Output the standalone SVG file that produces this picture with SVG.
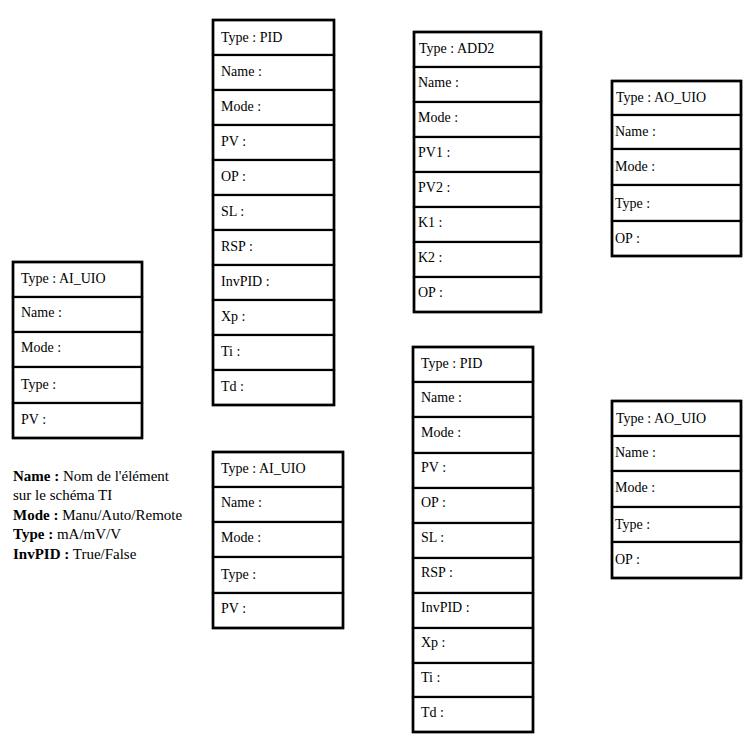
<svg xmlns="http://www.w3.org/2000/svg" width="751" height="743" viewBox="0 0 751 743">
<style>
.c{fill:#fff;stroke:#000;stroke-width:2.2}
.o{fill:none;stroke:#000;stroke-width:2.6}
.t{font-family:"Liberation Serif","Times New Roman",serif;font-size:14px;fill:#000}
.l{font-family:"Liberation Serif","Times New Roman",serif;font-size:15px;fill:#000}
.b{font-weight:bold}
</style>
<rect width="751" height="743" fill="#fff"/>
<g id="ai_uio_1">
<rect class="c" x="13" y="262" width="129" height="35"/>
<rect class="c" x="13" y="297" width="129" height="35"/>
<rect class="c" x="13" y="332" width="129" height="35"/>
<rect class="c" x="13" y="367" width="129" height="36"/>
<rect class="c" x="13" y="403" width="129" height="35"/>
<rect class="o" x="13" y="262" width="129" height="176"/>
<text class="t" x="21" y="283">Type : AI_UIO</text>
<text class="t" x="21" y="317">Name :</text>
<text class="t" x="21" y="352">Mode :</text>
<text class="t" x="21" y="389">Type :</text>
<text class="t" x="21" y="424">PV :</text>
</g>
<g id="pid_1">
<rect class="c" x="213" y="20" width="121" height="35"/>
<rect class="c" x="213" y="55" width="121" height="35"/>
<rect class="c" x="213" y="90" width="121" height="35"/>
<rect class="c" x="213" y="125" width="121" height="35"/>
<rect class="c" x="213" y="160" width="121" height="35"/>
<rect class="c" x="213" y="195" width="121" height="35"/>
<rect class="c" x="213" y="230" width="121" height="35"/>
<rect class="c" x="213" y="265" width="121" height="35"/>
<rect class="c" x="213" y="300" width="121" height="35"/>
<rect class="c" x="213" y="335" width="121" height="35"/>
<rect class="c" x="213" y="370" width="121" height="35"/>
<rect class="o" x="213" y="20" width="121" height="385"/>
<text class="t" x="221" y="42">Type : PID</text>
<text class="t" x="221" y="76">Name :</text>
<text class="t" x="221" y="111">Mode :</text>
<text class="t" x="221" y="146">PV :</text>
<text class="t" x="221" y="181">OP :</text>
<text class="t" x="221" y="216">SL :</text>
<text class="t" x="221" y="251">RSP :</text>
<text class="t" x="221" y="286">InvPID :</text>
<text class="t" x="221" y="321">Xp :</text>
<text class="t" x="221" y="356">Ti :</text>
<text class="t" x="221" y="391">Td :</text>
</g>
<g id="add2">
<rect class="c" x="414" y="32" width="127" height="35"/>
<rect class="c" x="414" y="67" width="127" height="35"/>
<rect class="c" x="414" y="102" width="127" height="35"/>
<rect class="c" x="414" y="137" width="127" height="35"/>
<rect class="c" x="414" y="172" width="127" height="35"/>
<rect class="c" x="414" y="207" width="127" height="35"/>
<rect class="c" x="414" y="242" width="127" height="35"/>
<rect class="c" x="414" y="277" width="127" height="35"/>
<rect class="o" x="414" y="32" width="127" height="280"/>
<text class="t" x="419" y="53">Type : ADD2</text>
<text class="t" x="418" y="87">Name :</text>
<text class="t" x="418" y="122">Mode :</text>
<text class="t" x="418" y="157">PV1 :</text>
<text class="t" x="418" y="192">PV2 :</text>
<text class="t" x="418" y="227">K1 :</text>
<text class="t" x="418" y="262">K2 :</text>
<text class="t" x="418" y="297">OP :</text>
</g>
<g id="ao_uio_1">
<rect class="c" x="612" y="81" width="129" height="34"/>
<rect class="c" x="612" y="115" width="129" height="34"/>
<rect class="c" x="612" y="149" width="129" height="36"/>
<rect class="c" x="612" y="185" width="129" height="36"/>
<rect class="c" x="612" y="221" width="129" height="35"/>
<rect class="o" x="612" y="81" width="129" height="175"/>
<text class="t" x="616" y="102">Type : AO_UIO</text>
<text class="t" x="615" y="136">Name :</text>
<text class="t" x="615" y="171">Mode :</text>
<text class="t" x="615" y="208">Type :</text>
<text class="t" x="615" y="243">OP :</text>
</g>
<g id="ai_uio_2">
<rect class="c" x="213" y="452" width="130" height="35"/>
<rect class="c" x="213" y="487" width="130" height="35"/>
<rect class="c" x="213" y="522" width="130" height="35"/>
<rect class="c" x="213" y="557" width="130" height="36"/>
<rect class="c" x="213" y="593" width="130" height="35"/>
<rect class="o" x="213" y="452" width="130" height="176"/>
<text class="t" x="221" y="473">Type : AI_UIO</text>
<text class="t" x="221" y="507">Name :</text>
<text class="t" x="221" y="542">Mode :</text>
<text class="t" x="221" y="579">Type :</text>
<text class="t" x="221" y="613">PV :</text>
</g>
<g id="pid_2">
<rect class="c" x="413" y="347" width="120" height="35"/>
<rect class="c" x="413" y="382" width="120" height="35"/>
<rect class="c" x="413" y="417" width="120" height="36"/>
<rect class="c" x="413" y="453" width="120" height="35"/>
<rect class="c" x="413" y="488" width="120" height="35"/>
<rect class="c" x="413" y="523" width="120" height="35"/>
<rect class="c" x="413" y="558" width="120" height="35"/>
<rect class="c" x="413" y="593" width="120" height="35"/>
<rect class="c" x="413" y="628" width="120" height="35"/>
<rect class="c" x="413" y="663" width="120" height="34"/>
<rect class="c" x="413" y="697" width="120" height="35"/>
<rect class="o" x="413" y="347" width="120" height="385"/>
<text class="t" x="421" y="368">Type : PID</text>
<text class="t" x="421" y="402">Name :</text>
<text class="t" x="421" y="437">Mode :</text>
<text class="t" x="421" y="472">PV :</text>
<text class="t" x="421" y="507">OP :</text>
<text class="t" x="421" y="542">SL :</text>
<text class="t" x="421" y="577">RSP :</text>
<text class="t" x="421" y="612">InvPID :</text>
<text class="t" x="421" y="647">Xp :</text>
<text class="t" x="421" y="682">Ti :</text>
<text class="t" x="421" y="717">Td :</text>
</g>
<g id="ao_uio_2">
<rect class="c" x="612" y="401" width="129" height="35"/>
<rect class="c" x="612" y="436" width="129" height="35"/>
<rect class="c" x="612" y="471" width="129" height="36"/>
<rect class="c" x="612" y="507" width="129" height="35"/>
<rect class="c" x="612" y="542" width="129" height="36"/>
<rect class="o" x="612" y="401" width="129" height="177"/>
<text class="t" x="616" y="423">Type : AO_UIO</text>
<text class="t" x="615" y="457">Name :</text>
<text class="t" x="615" y="492">Mode :</text>
<text class="t" x="615" y="529">Type :</text>
<text class="t" x="615" y="564">OP :</text>
</g>
<g id="legend">
<text class="l" x="13" y="481"><tspan class="b">Name :</tspan> Nom de l'élément</text>
<text class="l" x="13" y="500">sur le schéma TI</text>
<text class="l" x="13" y="520"><tspan class="b">Mode :</tspan> Manu/Auto/Remote</text>
<text class="l" x="13" y="539"><tspan class="b">Type :</tspan> mA/mV/V</text>
<text class="l" x="13" y="559"><tspan class="b">InvPID :</tspan> True/False</text>
</g>
<g id="connectors"></g>
</svg>
